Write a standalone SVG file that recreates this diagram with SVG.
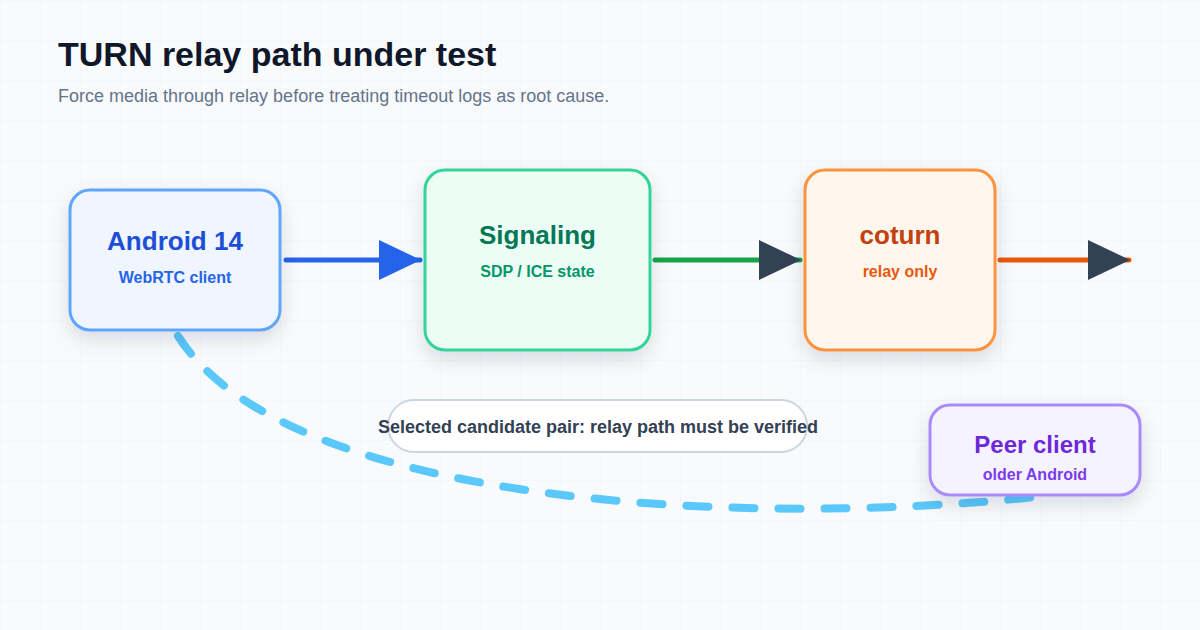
<svg xmlns="http://www.w3.org/2000/svg" width="1200" height="630" viewBox="0 0 1200 630">
  <defs>
    <pattern id="grid" width="40" height="40" patternUnits="userSpaceOnUse">
      <path d="M40 0 L0 0 0 40" fill="none" stroke="#eef2f7" stroke-width="1"/>
    </pattern>
    <filter id="shadow" x="-20%" y="-20%" width="140%" height="150%">
      <feDropShadow dx="0" dy="8" stdDeviation="10" flood-color="#0f172a" flood-opacity="0.12"/>
    </filter>
    <marker id="arrowBlue" viewBox="0 0 42 40" refX="41" refY="20" markerWidth="42" markerHeight="40" markerUnits="userSpaceOnUse" orient="auto">
      <path d="M0 0 L42 20 L0 40 Z" fill="#2563eb"/>
    </marker>
    <marker id="arrowDark" viewBox="0 0 42 40" refX="41" refY="20" markerWidth="42" markerHeight="40" markerUnits="userSpaceOnUse" orient="auto">
      <path d="M0 0 L42 20 L0 40 Z" fill="#334155"/>
    </marker>
    <style>
      text { font-family: "Liberation Sans", Arial, "Helvetica Neue", sans-serif; }
      .title { font-size: 34px; font-weight: 700; fill: #0f172a; }
      .subtitle { font-size: 18px; fill: #64748b; }
      .node rect { stroke-width: 3; filter: url(#shadow); }
      .nt { font-size: 26px; font-weight: 700; text-anchor: middle; }
      .ns { font-size: 16px; font-weight: 700; text-anchor: middle; }
      .edge { fill: none; stroke-width: 5; stroke-linecap: round; }
      .dash { fill: none; stroke: #5ac8fa; stroke-width: 8; stroke-linecap: round; stroke-dasharray: 22 24; }
      .pill { fill: #ffffff; stroke: #cbd5e1; stroke-width: 2; }
      .pilltext { font-size: 18px; font-weight: 700; fill: #334155; text-anchor: middle; }
    </style>
  </defs>

  <rect width="1200" height="630" fill="#f8fafc"/>
  <rect width="1200" height="630" fill="url(#grid)"/>

  <text class="title" x="58" y="66">TURN relay path under test</text>
  <text class="subtitle" x="58" y="102">Force media through relay before treating timeout logs as root cause.</text>

  <g id="connectors">
    <path class="dash" d="M178 336 C 285 505, 740 528, 1035 497"/>
    <path class="edge" stroke="#2563eb" d="M286 260 L420 260" marker-end="url(#arrowBlue)"/>
    <path class="edge" stroke="#16a34a" d="M655 260 L800 260" marker-end="url(#arrowDark)"/>
    <path class="edge" stroke="#ea580c" d="M1000 260 L1129 260" marker-end="url(#arrowDark)"/>
    <g id="edge-label">
      <rect class="pill" x="388" y="400" width="419" height="52" rx="26"/>
      <text class="pilltext" x="598" y="433">Selected candidate pair: relay path must be verified</text>
    </g>
  </g>

  <g id="node-android" class="node">
    <rect x="70" y="190" width="210" height="140" rx="20" fill="#eff6ff" stroke="#60a5fa"/>
    <text class="nt" x="175" y="250" fill="#1d4ed8">Android 14</text>
    <text class="ns" x="175" y="283" fill="#2563eb">WebRTC client</text>
  </g>

  <g id="node-signaling" class="node">
    <rect x="425" y="170" width="225" height="180" rx="20" fill="#ecfdf5" stroke="#34d399"/>
    <text class="nt" x="537.5" y="244" fill="#047857">Signaling</text>
    <text class="ns" x="537.5" y="277" fill="#059669">SDP / ICE state</text>
  </g>

  <g id="node-coturn" class="node">
    <rect x="805" y="170" width="190" height="180" rx="20" fill="#fff7ed" stroke="#fb923c"/>
    <text class="nt" x="900" y="244" fill="#c2410c">coturn</text>
    <text class="ns" x="900" y="277" fill="#ea580c">relay only</text>
  </g>

  <g id="node-peer" class="node">
    <rect x="930" y="405" width="210" height="90" rx="20" fill="#f5f3ff" stroke="#a78bfa"/>
    <text class="nt" x="1035" y="453" fill="#6d28d9" style="font-size:24px">Peer client</text>
    <text class="ns" x="1035" y="480" fill="#7c3aed">older Android</text>
  </g>
</svg>
